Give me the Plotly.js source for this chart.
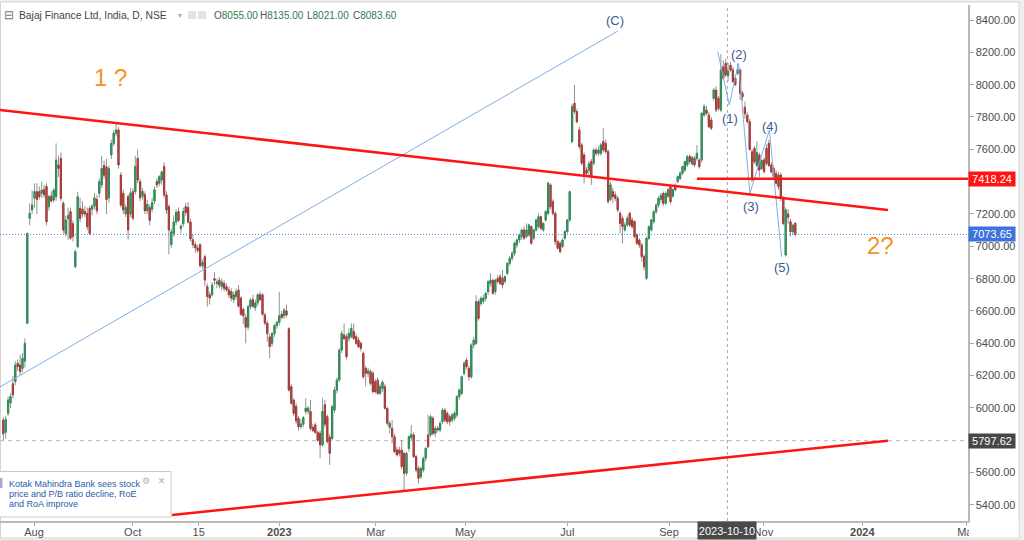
<!DOCTYPE html>
<html><head><meta charset="utf-8">
<script src="https://cdn.plot.ly/plotly-3.0.1.min.js"></script>
<style>html,body{margin:0;padding:0;background:#fff;}#chart{width:1024px;height:540px;}</style>
</head><body><div id="chart"></div>
<script>
// ---- daily OHLC (Bajaj Finance, NSE) ----
const openP = [
5925,5850,5967,6030,6150,6163,6276,6266,6245,6290,
6524,7173,7225,7297,7338,7338,7328,7350,7370,7245,
7310,7287,7307,7503,7544,7266,7080,7170,7214,7140,
6874,6998,7235,7230,7215,7204,7235,7230,7250,7290,
7328,7380,7500,7490,7300,7565,7637,7700,7720,7441,
7328,7200,7307,7200,7338,7338,7544,7400,7310,7320,
7220,7240,7230,7280,7400,7390,7410,7493,7318,7245,
7010,7080,7150,7215,7110,7140,7245,7240,7150,7040,
7010,6990,7010,6880,6936,6750,6700,6700,6800,6770,
6790,6750,6770,6750,6730,6720,6670,6690,6730,6680,
6610,6560,6500,6627,6670,6620,6650,6700,6700,6575,
6525,6440,6400,6460,6510,6530,6580,6570,6600,6490,
6132,6049,6010,5936,5885,5900,5978,5980,5978,5880,
5895,5850,5843,5771,6020,5946,5820,5812,5987,6111,
6173,6358,6451,6441,6430,6441,6472,6441,6420,6400,
6338,6245,6214,6224,6214,6163,6173,6090,6120,6132,
5997,5880,5874,5822,5740,5740,5740,5719,5596,5750,
5816,5833,5699,5626,5575,5616,5690,5833,5833,5936,
5843,5874,5864,5915,5987,5967,5946,5925,5936,5956,
6070,6090,6214,6296,6245,6193,6390,6400,6657,6647,
6660,6678,6719,6770,6790,6720,6802,6813,6802,6782,
6833,6895,6926,6957,7008,7039,7060,7101,7060,7070,
7122,7050,7101,7122,7183,7101,7163,7204,7380,7276,
7204,7029,7019,6998,7050,7091,7163,7648,7885,7834,
7720,7627,7565,7472,7470,7524,7514,7596,7575,7575,
7648,7637,7586,7290,7338,7318,7297,7204,7173,7101,
7132,7204,7163,7153,7070,7039,7008,6936,6802,7049,
7101,7152,7214,7255,7290,7328,7266,7310,7369,7310,
7369,7400,7420,7452,7472,7503,7555,7510,7544,7544,
7534,7534,7812,7843,7812,7781,7915,7967,7915,7843,
8110,8132,8055,8120,8091,8040,8070,8091,7946,7860,
7812,7770,7585,7606,7500,7565,7480,7534,7606,7637,
7503,7482,7450,7441,7441,7297,6946,7200,7152,7090,
7142];
const highP = [
5945,5950,6070,6090,6200,6290,6300,6330,6340,6431,
7085,7266,7348,7390,7390,7370,7400,7380,7390,7320,
7340,7360,7637,7560,7580,7280,7190,7240,7240,7160,
6980,7338,7300,7280,7250,7240,7250,7260,7330,7320,
7420,7560,7530,7540,7500,7660,7720,7771,7740,7460,
7350,7260,7320,7360,7360,7560,7600,7420,7360,7340,
7290,7260,7300,7370,7420,7440,7470,7520,7340,7260,
7110,7190,7230,7240,7140,7240,7270,7275,7170,7070,
7030,7010,7020,6920,6950,6770,6720,6780,6840,6800,
6810,6800,6790,6770,6750,6740,6720,6740,6760,6690,
6620,6580,6640,6680,6700,6670,6710,6720,6710,6590,
6540,6460,6470,6520,6540,6719,6600,6620,6640,6500,
6150,6060,6030,5950,5930,5950,6060,6010,6050,5900,
5910,5860,5860,6060,6050,5960,5840,6020,6130,6190,
6370,6480,6523,6460,6492,6523,6523,6460,6440,6410,
6350,6260,6250,6240,6230,6180,6190,6150,6170,6150,
6010,5920,5925,5840,5760,5760,5800,5730,5730,5830,
5894,5850,5710,5640,5640,5700,5760,5956,5960,5950,
5890,5890,5920,6000,6000,5980,5960,5970,5980,6080,
6120,6200,6290,6310,6260,6400,6440,6698,6670,6690,
6700,6720,6790,6833,6800,6800,6823,6830,6854,6820,
6900,6940,6970,7030,7050,7080,7110,7122,7142,7140,
7130,7110,7170,7204,7190,7150,7225,7400,7390,7290,
7215,7040,7030,7050,7100,7170,7345,7880,7998,7850,
7740,7640,7580,7490,7530,7540,7606,7610,7620,7640,
7730,7660,7600,7400,7360,7340,7310,7220,7190,7150,
7190,7215,7180,7160,7080,7050,7020,6950,7060,7130,
7170,7225,7265,7310,7330,7340,7340,7360,7380,7360,
7390,7440,7465,7500,7530,7565,7570,7560,7560,7627,
7545,7830,7880,7870,7830,7800,7980,7990,7930,8190,
8150,8160,8135,8140,8110,8060,8130,8100,7960,7895,
7830,7790,7600,7620,7650,7580,7540,7550,7630,7660,
7520,7500,7470,7460,7455,7310,7240,7230,7170,7140,
7150];
const lowP = [
5800,5810,5950,6000,6060,6140,6230,6200,6220,6250,
6520,7130,7200,7240,7200,7290,7300,7300,7130,7220,
7270,7270,7280,7430,7280,7080,7060,7040,7040,7030,
6864,6990,7150,7180,7180,7100,7070,7190,7230,7200,
7300,7360,7420,7200,7270,7540,7620,7680,7480,7240,
7200,7180,7040,7180,7160,7320,7390,7280,7290,7200,
7200,7130,7210,7260,7360,7370,7380,7300,7200,6950,
6990,7060,7130,7150,7080,7120,7190,7140,7030,6990,
6960,6960,6870,6860,6750,6627,6640,6690,6760,6740,
6740,6730,6720,6720,6680,6660,6650,6670,6620,6570,
6520,6400,6480,6610,6620,6600,6630,6660,6570,6510,
6410,6307,6380,6440,6490,6510,6550,6550,6560,6100,
6020,5950,5900,5860,5870,5880,5960,5960,5860,5850,
5840,5790,5689,5760,5880,5780,5647,5800,5970,6090,
6160,6340,6420,6300,6410,6430,6420,6390,6370,6350,
6180,6132,6190,6140,6090,6090,6080,6080,6100,5990,
5890,5843,5780,5720,5700,5700,5620,5492,5580,5730,
5800,5690,5600,5534,5560,5600,5670,5750,5820,5830,
5820,5850,5850,5900,5910,5900,5890,5910,5920,5940,
6050,6080,6200,6240,6170,6180,6370,6390,6540,6630,
6640,6660,6700,6750,6700,6700,6770,6760,6740,6770,
6820,6880,6910,6940,6990,7020,7040,7040,7050,7060,
7010,7040,7090,7110,7100,7090,7150,7190,7230,7190,
7008,6980,6957,6990,7040,7080,7150,7637,7820,7760,
7600,7500,7390,7440,7440,7380,7500,7560,7560,7560,
7580,7570,7266,7280,7266,7280,7210,7080,7019,7090,
7120,7120,7110,7050,7010,6990,6905,6854,6792,7040,
7090,7140,7200,7240,7270,7250,7255,7300,7260,7300,
7340,7390,7410,7440,7460,7490,7510,7500,7490,7530,
7480,7520,7800,7810,7730,7720,7900,7830,7840,7830,
8030,8050,8021,8080,8010,7990,8060,7905,7900,7790,
7760,7590,7400,7510,7490,7430,7470,7450,7500,7490,
7450,7420,7380,7350,7280,7130,6936,7140,7060,7070,
7060];
const closeP = [
5840,5930,6049,6070,6080,6266,6256,6225,6307,6400,
7080,7204,7256,7338,7290,7307,7348,7318,7152,7307,
7280,7348,7534,7482,7297,7101,7163,7190,7050,7060,
6967,7307,7173,7200,7200,7122,7080,7250,7300,7220,
7400,7482,7440,7290,7480,7637,7700,7720,7503,7255,
7225,7240,7101,7330,7173,7493,7410,7300,7340,7220,
7260,7160,7270,7350,7380,7430,7460,7317,7225,7101,
7090,7150,7210,7160,7125,7215,7210,7150,7045,7010,
6990,6975,6880,6900,6792,6690,6680,6760,6790,6780,
6760,6780,6740,6730,6700,6680,6700,6720,6630,6580,
6570,6500,6627,6668,6630,6650,6700,6670,6580,6525,
6460,6380,6460,6510,6530,6570,6560,6606,6575,6111,
6029,5967,5920,5884,5900,5940,5999,6000,5874,5860,
5850,5800,5771,5978,5900,5792,5720,6008,6111,6173,
6358,6461,6430,6317,6461,6492,6430,6400,6379,6369,
6193,6214,6230,6152,6101,6101,6090,6132,6160,5998,
5905,5905,5822,5730,5710,5720,5637,5596,5719,5822,
5836,5699,5616,5565,5626,5688,5750,5760,5946,5843,
5874,5864,5905,5987,5925,5915,5915,5956,5967,6070,
6111,6193,6276,6255,6193,6389,6420,6657,6554,6678,
6680,6709,6781,6790,6710,6790,6782,6771,6761,6813,
6895,6926,6957,7019,7039,7070,7101,7050,7101,7132,
7019,7101,7163,7183,7112,7142,7215,7390,7245,7204,
7029,6988,6967,7039,7091,7163,7338,7864,7834,7771,
7617,7514,7441,7452,7510,7431,7596,7575,7596,7627,
7596,7586,7276,7380,7308,7297,7225,7142,7122,7132,
7173,7132,7122,7060,7019,7008,6936,6874,7050,7121,
7163,7214,7255,7297,7315,7266,7328,7350,7276,7350,
7350,7431,7452,7493,7524,7555,7524,7550,7503,7575,
7493,7823,7864,7823,7740,7730,7967,7843,7854,8090,
8040,8060,8083.6,8090,8018,8000,8091,7946,7925,7820,
7771,7600,7410,7523,7580,7472,7530,7462,7513,7500,
7462,7431,7390,7369,7297,7142,7225,7180,7090,7130,
7073.65];

// ---- axis ticks (bar index where each label sits) ----
const tickIdx  = [12.8, 53.9, 81.4, 115, 155.2, 192.5, 235, 277.4, 316.7, 357.9, 401.4];
const tickText = ['Aug','Oct','15','<b>2023</b>','Mar','May','Jul','Sep','Nov','<b>2024</b>','Mar'];
// 5800 and 7400 sit under the 5797.62 / 7418.24 price labels, as in the picture
const priceTicks = [5400,5600,6000,6200,6400,6600,6800,7000,7200,7600,7800,8000,8200,8400];

// ---- drawing tools / levels ----
const levelRed = 7418.24, levelLast = 7073.65, levelLow = 5797.62;
const crossIdx = 301.7, crossLabel = '2023-10-10';
const trendDownIdx = [-1.4, 368.6],  trendDownPrice = [7843, 7225];
const trendUpIdx   = [70.3, 368.6],  trendUpPrice   = [5338, 5797.62];
const redLevelIdx  = [289, 402];
const lineCIdx     = [-1.4, 256.1],  lineCPrice     = [6130, 8332];
const waveIdx   = [297.7, 302.5, 306.3, 311.1, 319.2, 324.3];
const wavePrice = [8204, 7874, 8132, 7328, 7720, 6936];
const waveLabels = ['(1)','(2)','(3)','(4)','(5)','(C)'];
const waveLabelIdx   = [302.6, 306.6, 311.4, 319.3, 324.4, 254.9];
const waveLabelPrice = [7792, 8184, 7245, 7744, 6866, 8400];
const header = {name:'Bajaj Finance Ltd, India, D, NSE', o:'8055.00', h:'8135.00', l:'8021.00', c:'8083.60'};
const newsLines = ['Kotak Mahindra Bank sees stock','price and P/B ratio decline, RoE','and RoA improve'];

// ---- layout helpers ----
const PW = 968, PB = 521, PH = 516;
const px = v => v / PW;
const py = v => (PB - v) / PH;

const barIdx = openP.map((_, i) => i);
const bodyHi = openP.map((o, i) => Math.max(o, closeP[i]));
const bodyLo = openP.map((o, i) => Math.min(o, closeP[i]));

const traces = [
  { type:'candlestick', x:barIdx, open:openP, high:highP, low:lowP, close:closeP,
    increasing:{line:{color:'#8e9a94', width:1}, fillcolor:'#8e9a94'},
    decreasing:{line:{color:'#9a8e8e', width:1}, fillcolor:'#9a8e8e'},
    hoverinfo:'skip', showlegend:false },
  { type:'candlestick', x:barIdx, open:openP, high:bodyHi, low:bodyLo, close:closeP,
    increasing:{line:{color:'#2b8a55', width:1}, fillcolor:'#4aa874'},
    decreasing:{line:{color:'#a63a36', width:1}, fillcolor:'#c4524b'},
    hoverinfo:'skip', showlegend:false },
  { type:'scatter', mode:'lines', x:lineCIdx, y:lineCPrice, line:{color:'#7eaee2', width:1}, hoverinfo:'skip' },
  { type:'scatter', mode:'lines', x:waveIdx, y:wavePrice, line:{color:'#7eaee2', width:1}, hoverinfo:'skip' },
  { type:'scatter', mode:'lines', x:trendDownIdx, y:trendDownPrice, line:{color:'#ff1414', width:2.5}, hoverinfo:'skip' },
  { type:'scatter', mode:'lines', x:trendUpIdx, y:trendUpPrice, line:{color:'#ff1414', width:2.5}, hoverinfo:'skip' },
  { type:'scatter', mode:'lines', x:redLevelIdx, y:[levelRed, levelRed], line:{color:'#ff1414', width:2.5}, hoverinfo:'skip' }
];

const FONT = 'Liberation Sans, Arial, Helvetica, sans-serif';
const txt = (x, y, text, size, color, extra) => Object.assign(
  {xref:'paper', yref:'paper', x:px(x), y:py(y), text:text, showarrow:false,
   xanchor:'left', yanchor:'middle', font:{family:FONT, size:size, color:color}}, extra || {});

const annotations = [
  txt(2, 15, '⊟', 12, '#777'),
  txt(17, 15, header.name, 10.3, '#444'),
  txt(176, 15, '▾', 8, '#aaa'),
  txt(212, 15, 'O<span style="color:#2f7a52">' + header.o + '</span>', 10, '#555'),
  txt(258, 15, 'H<span style="color:#2f7a52">' + header.h + '</span>', 10, '#555'),
  txt(305, 15, 'L<span style="color:#2f7a52">' + header.l + '</span>', 10, '#555'),
  txt(351, 15, 'C<span style="color:#2f7a52">' + header.c + '</span>', 10, '#555'),
  // orange notes
  {xref:'x', yref:'y', x:44.5, y:8047, text:'1 ?', showarrow:false, font:{family:FONT, size:24, color:'#f7921e'}},
  {xref:'x', yref:'y', x:365.3, y:7008, text:'2?', showarrow:false, font:{family:FONT, size:24, color:'#f7921e'}},
  // price labels on the axis
  {xref:'paper', yref:'y', x:1, y:levelRed, xanchor:'left', yanchor:'middle', text:levelRed.toFixed(2), showarrow:false,
   bgcolor:'#ff1414', borderpad:1, width:44, height:12, font:{family:FONT, size:11, color:'#fff'}},
  {xref:'paper', yref:'y', x:1, y:levelLast, xanchor:'left', yanchor:'middle', text:levelLast.toFixed(2), showarrow:false,
   bgcolor:'#3f72e0', borderpad:1, width:44, height:12, font:{family:FONT, size:11, color:'#fff'}},
  {xref:'paper', yref:'y', x:1, y:levelLow, xanchor:'left', yanchor:'middle', text:levelLow.toFixed(2), showarrow:false,
   bgcolor:'#474747', borderpad:1, width:44, height:12, font:{family:FONT, size:11, color:'#fff'}},
  {xref:'x', yref:'paper', x:crossIdx, y:0, xanchor:'center', yanchor:'top', text:crossLabel, showarrow:false,
   bgcolor:'#4a4a4a', borderpad:1, width:56, height:15, font:{family:FONT, size:11, color:'#fff'}},
  // news box
  txt(7, 483.5, newsLines[0], 9, '#2b5aa8'),
  txt(7, 493.5, newsLines[1], 9, '#2b5aa8'),
  txt(7, 503.5, newsLines[2], 9, '#2b5aa8'),
  txt(140, 481, '⚙', 9, '#b0b0b0'),
  txt(156, 481, '×', 12, '#b0b0b0')
];
waveLabels.forEach((t, i) => annotations.push({xref:'x', yref:'y', x:waveLabelIdx[i], y:waveLabelPrice[i], text:t,
  showarrow:false, font:{family:FONT, size:13, color:'#3b5b8c'}}));

const shapes = [
  // frame of the widget
  {type:'rect', xref:'paper', yref:'paper', x0:px(0.5), x1:px(1019), y0:py(538), y1:py(2), layer:'below',
   fillcolor:'#ffffff', line:{color:'#d4d4d4', width:1}},
  {type:'line', xref:'x', yref:'paper', x0:crossIdx, x1:crossIdx, y0:0, y1:1, layer:'below',
   line:{color:'#a5a5a5', width:1, dash:'3px,3px'}},
  {type:'line', xref:'paper', yref:'y', x0:0, x1:1, y0:levelLow, y1:levelLow, layer:'below',
   line:{color:'#b8b8b8', width:1, dash:'4px,4px'}},
  {type:'line', xref:'paper', yref:'y', x0:0, x1:1, y0:levelLast, y1:levelLast, layer:'above',
   line:{color:'#4a7be0', width:1, dash:'1px,2px'}},
  // header icons
  {type:'rect', xref:'paper', yref:'paper', x0:px(188), x1:px(196), y0:py(19), y1:py(11), fillcolor:'#e2e2e2', line:{width:0}},
  {type:'rect', xref:'paper', yref:'paper', x0:px(198), x1:px(206), y0:py(19), y1:py(11), fillcolor:'#e2e2e2', line:{width:0}},
  // news box
  {type:'rect', xref:'paper', yref:'paper', x0:px(-1), x1:px(171), y0:py(517), y1:py(471.5), layer:'above',
   fillcolor:'#ffffff', line:{color:'#c9c9c9', width:1}},
  {type:'rect', xref:'paper', yref:'paper', x0:px(0), x1:px(2.5), y0:py(488), y1:py(478), layer:'above',
   fillcolor:'#b9a2dc', line:{width:0}},
  // clip the last date label under the price scale
  {type:'rect', xref:'paper', yref:'paper', x0:px(969), x1:px(1018.5), y0:py(537.5), y1:py(522.5), layer:'above',
   fillcolor:'#ffffff', line:{width:0}}
];

const layout = {
  width:1024, height:540,
  margin:{l:0, r:56, t:5, b:19, pad:0},
  paper_bgcolor:'#efefef', plot_bgcolor:'#ffffff',
  showlegend:false, hovermode:false, dragmode:false,
  boxgap:0.3, boxgroupgap:0.3,
  font:{family:FONT, size:11, color:'#555'},
  xaxis:{type:'linear', range:[-1.375, 401.96], rangeslider:{visible:false}, fixedrange:true,
    tickmode:'array', tickvals:tickIdx, ticktext:tickText, ticks:'outside', ticklen:3, tickcolor:'#a8a8a8',
    ticklabelstandoff:-3,
    showgrid:false, zeroline:false, showline:true, linecolor:'#b9b9b9', linewidth:1.5,
    tickfont:{family:FONT, size:11, color:'#4d4d4d'}},
  yaxis:{side:'right', range:[5300.8, 8492.8], fixedrange:true,
    tickmode:'array', tickvals:priceTicks, tickformat:'.2f', ticks:'outside', ticklen:4, tickcolor:'#a8a8a8',
    showgrid:false, zeroline:false, showline:true, linecolor:'#b9b9b9', linewidth:1.5,
    tickfont:{family:FONT, size:11, color:'#4d4d4d'}},
  annotations:annotations,
  shapes:shapes
};

Plotly.newPlot('chart', traces, layout, {staticPlot:true, displayModeBar:false});
</script>
</body></html>
